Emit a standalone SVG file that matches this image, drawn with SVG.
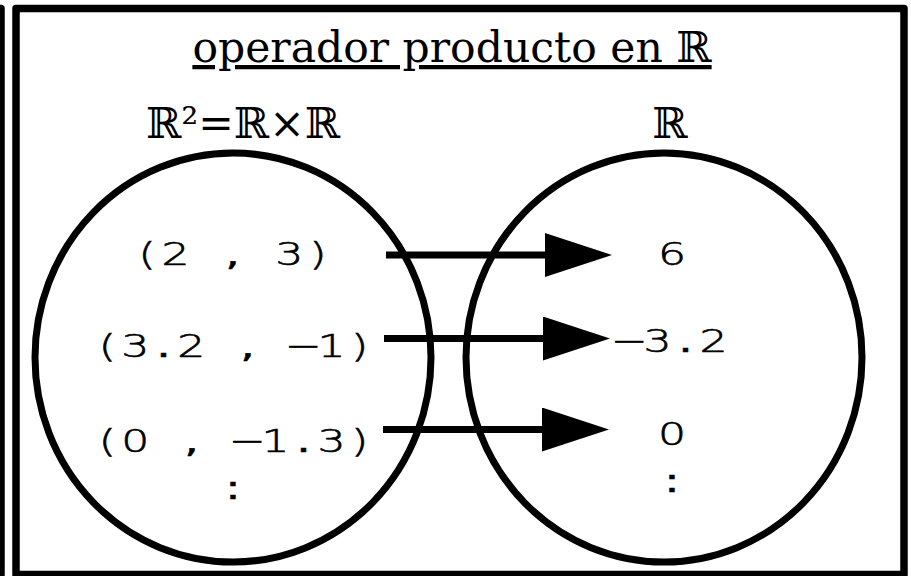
<svg xmlns="http://www.w3.org/2000/svg" width="911" height="576" viewBox="0 0 911 576">
<style>
.frame{fill:none;stroke:#000;stroke-width:7.5;stroke-linejoin:round}
.set{fill:none;stroke:#000;stroke-width:7}
.conn{stroke:#000;stroke-width:7;fill:none}
.serif{font-family:"DejaVu Serif",serif;font-size:42.5px;fill:#000}
.mono{font-family:"DejaVu Sans",sans-serif;font-weight:200;font-size:32px;fill:#000;stroke:#000;stroke-width:0.6;text-anchor:middle}
.p{font-weight:400}
</style>
<defs>
<marker id="ah" markerUnits="userSpaceOnUse" markerWidth="68" markerHeight="46" refX="0" refY="22" orient="auto" viewBox="0 0 68 46">
<path d="M0,0 L67,22 L0,44 Z" fill="#000"/>
</marker>
</defs>
<rect width="911" height="576" fill="#fff"/>
<rect class="frame" x="-880" y="8.5" width="881" height="566"/>
<g id="frame">
<rect class="frame" x="16" y="8.5" width="888" height="566"/>
<text class="serif" x="452" y="62" text-anchor="middle" text-decoration="underline">operador producto en ℝ</text>
</g>
<g id="domain">
<ellipse class="set" cx="233" cy="357.5" rx="198" ry="204.5"/>
<text class="serif" x="243" y="138" text-anchor="middle">ℝ²=ℝ×ℝ</text>
<text class="mono" transform="translate(232.5,265) scale(1.38,1)" x="-61.8 -41.2 -20.6 0 20.6 41.2 61.8" y="0">(2 <tspan class="p">,</tspan> 3)</text>
<text class="mono" transform="translate(233.5,357) scale(1.38,1)" x="-91.4 -71.1 -50.8 -30.5 -10.2 10.2 30.5 50.8 71.1 91.4" y="0">(3<tspan class="p">.</tspan>2 <tspan class="p">,</tspan> −1)</text>
<text class="mono" transform="translate(233.5,452) scale(1.38,1)" x="-91.4 -71.1 -50.8 -30.5 -10.2 10.2 30.5 50.8 71.1 91.4" y="0">(0 <tspan class="p">,</tspan> −1<tspan class="p">.</tspan>3)</text>
<text class="mono p" transform="translate(233,499) scale(1.38,1)" x="0" y="0">:</text>
</g>
<g id="codomain">
<ellipse class="set" cx="664" cy="357.5" rx="198" ry="204.5"/>
<text class="serif" x="670" y="138" text-anchor="middle">ℝ</text>
<text class="mono" transform="translate(672,265) scale(1.38,1)" x="0" y="0">6</text>
<text class="mono" transform="translate(671.5,352) scale(1.38,1)" x="-30.5 -10.2 10.2 30.5" y="0">−3<tspan class="p">.</tspan>2</text>
<text class="mono" transform="translate(672,445) scale(1.38,1)" x="0" y="0">0</text>
<text class="mono p" transform="translate(672,492) scale(1.38,1)" x="0" y="0">:</text>
</g>
<g id="connectors">
<line class="conn" x1="386" y1="255" x2="545" y2="255" marker-end="url(#ah)"/>
<line class="conn" x1="384" y1="338.5" x2="543" y2="338.5" marker-end="url(#ah)"/>
<line class="conn" x1="383" y1="429.5" x2="542" y2="429.5" marker-end="url(#ah)"/>
</g>
</svg>
